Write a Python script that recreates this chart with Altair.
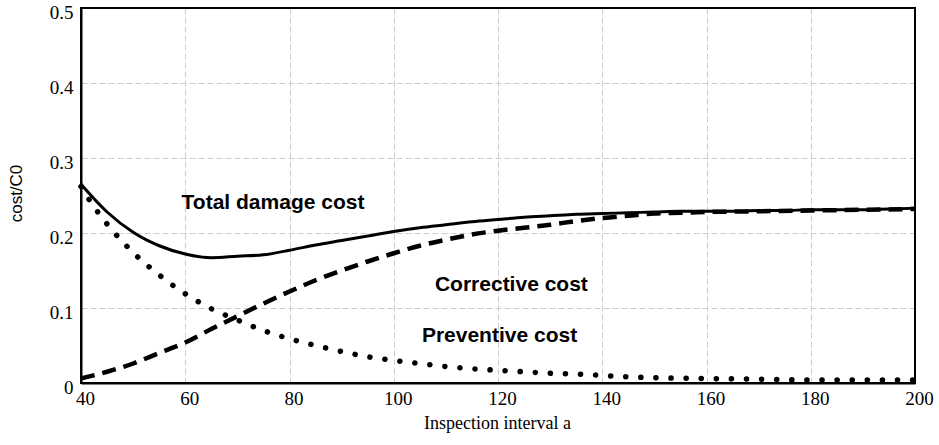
import altair as alt
import pandas as pd

# Inspection interval (a) and normalised costs (cost / C0)
total_x = [40, 45, 50, 55, 60, 65, 70, 75, 80, 85, 90, 95, 100, 105, 110, 115, 120,
           125, 130, 135, 140, 145, 150, 155, 160, 165, 170, 175, 180, 185, 190, 195, 200]
total_y = [0.265, 0.228, 0.201, 0.183, 0.172, 0.167, 0.169, 0.171, 0.177, 0.184, 0.190,
           0.196, 0.202, 0.207, 0.211, 0.215, 0.218, 0.221, 0.223, 0.225, 0.226, 0.227,
           0.228, 0.229, 0.229, 0.229, 0.230, 0.230, 0.231, 0.231, 0.231, 0.232, 0.233]

corrective_x = [40, 45, 50, 55, 60, 65, 70, 75, 80, 85, 90, 95, 100, 105, 110, 115, 120,
                125, 130, 135, 140, 145, 150, 155, 160, 170, 180, 190, 200]
corrective_y = [0.006, 0.015, 0.026, 0.040, 0.054, 0.072, 0.089, 0.106, 0.122, 0.137,
                0.150, 0.162, 0.173, 0.183, 0.191, 0.198, 0.203, 0.207, 0.211, 0.216,
                0.220, 0.223, 0.226, 0.227, 0.228, 0.229, 0.230, 0.231, 0.232]

preventive_x = [40, 42, 45, 50, 55, 60, 65, 70, 75, 80, 85, 90, 95, 100, 105, 110, 115,
                120, 125, 130, 135, 140, 150, 160, 170, 180, 190, 200]
preventive_y = [0.262, 0.240, 0.212, 0.174, 0.144, 0.119, 0.099, 0.084, 0.070, 0.059,
                0.050, 0.042, 0.035, 0.030, 0.026, 0.022, 0.019, 0.017, 0.015, 0.013,
                0.012, 0.010, 0.007, 0.006, 0.005, 0.004, 0.004, 0.004]

# In-plot series labels
label_text = ["Total damage cost", "Corrective cost", "Preventive cost"]
label_x = [59.3, 107.9, 105.4]
label_y = [0.2316, 0.1227, 0.0543]

x_ticks = [40, 60, 80, 100, 120, 140, 160, 180, 200]
y_ticks = [0, 0.1, 0.2, 0.3, 0.4, 0.5]

W, H = 834, 375

total_df = pd.DataFrame({"a": total_x, "cost": total_y})
corr_df = pd.DataFrame({"a": corrective_x, "cost": corrective_y})
prev_df = pd.DataFrame({"a": preventive_x, "cost": preventive_y})
label_df = pd.DataFrame({"a": label_x, "cost": label_y, "text": label_text})

x_enc = alt.X(
    "a:Q",
    scale=alt.Scale(domain=[40, 200], nice=False, zero=False),
    axis=alt.Axis(
        title="Inspection interval a",
        values=x_ticks,
        labelFlush=False,
        labelOffset=4,
        titleX=416,
        titleY=45,
        titleBaseline="alphabetic",
    ),
)
y_enc = alt.Y(
    "cost:Q",
    scale=alt.Scale(domain=[0, 0.5], nice=False),
    axis=alt.Axis(
        title="cost/C0",
        values=y_ticks,
        format="~g",
        titleFont="Liberation Sans",
        titleFontSize=17,
        titleX=-56,
        titleY=185,
        titleBaseline="bottom",
        labelPadding=8,
        labelOffset=4,
    ),
)

total_line = alt.Chart(total_df).mark_line(
    color="black", strokeWidth=3, interpolate="monotone"
).encode(x=x_enc, y=y_enc)
corr_line = alt.Chart(corr_df).mark_line(
    color="black", strokeWidth=4.5, strokeDash=[14, 8], interpolate="monotone"
).encode(x="a:Q", y="cost:Q")
prev_line = alt.Chart(prev_df).mark_line(
    color="black", strokeWidth=5.5, strokeDash=[0.1, 15], strokeCap="round",
    interpolate="monotone"
).encode(x="a:Q", y="cost:Q")

labels = alt.Chart(label_df).mark_text(
    font="Liberation Sans",
    fontSize=21,
    fontWeight="bold",
    align="left",
    baseline="alphabetic",
    color="black",
).encode(x="a:Q", y="cost:Q", text="text:N")

# Solid black frame around the plot area, drawn above the grid
frame = alt.Chart(alt.Data(values=[{}])).mark_rect(
    filled=False, stroke="black", strokeWidth=2
).encode(
    x=alt.value(0), x2=alt.value(W), y=alt.value(0), y2=alt.value(H)
)

chart = (
    alt.layer(total_line, corr_line, prev_line, labels, frame)
    .properties(
        width=W,
        height=H,
        autosize=alt.AutoSizeParams(type="none"),
        padding={"left": 81, "top": 8, "right": 24, "bottom": 62},
        background="white",
    )
    .configure_view(stroke="black", strokeWidth=2)
    .configure_axis(
        grid=True,
        gridColor="#cccccc",
        gridDash=[6, 3],
        gridWidth=1,
        domain=True,
        domainColor="black",
        domainWidth=2,
        ticks=False,
        tickSize=0,
        labelFont="Liberation Serif",
        labelFontSize=19,
        labelColor="black",
        labelPadding=6,
        titleFont="Liberation Serif",
        titleFontSize=18,
        titleFontWeight="normal",
        titleColor="black",
    )
)

chart.save("out.html", embed_options={"renderer": "svg", "actions": False})
